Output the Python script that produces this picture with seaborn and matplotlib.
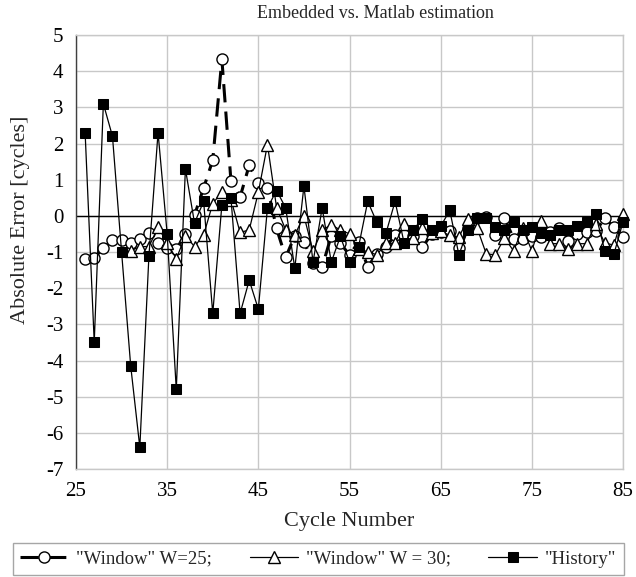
import matplotlib
matplotlib.use("Agg")
import matplotlib.pyplot as plt
import pandas as pd
import seaborn as sns

# ── DATA ─────────────────────────────────────────────────────────────────────
CYCLES = list(range(26, 86))          # W=25 and History start at cycle 26
CYCLES_W30 = list(range(31, 86))      # W=30 needs 30 cycles, starts at 31

WINDOW_25 = [-1.20, -1.17, -0.88, -0.67, -0.67, -0.74, -0.63, -0.48, -0.74, -0.88,
             -0.93, -0.50, 0.02, 0.77, 1.54, 4.33, 0.95, 0.52, 1.40, 0.92,
             0.78, -0.35, -1.15, -0.55, -0.71, -1.30, -1.42, -0.55, -0.76, -1.08,
             -0.72, -1.41, -1.05, -0.85, -0.54, -0.54, -0.55, -0.87, -0.50, -0.45,
             -0.41, -0.88, -0.35, -0.06, -0.02, -0.54, -0.06, -0.63, -0.63, -0.56,
             -0.59, -0.45, -0.34, -0.70, -0.50, -0.45, -0.43, -0.06, -0.32, -0.59]

WINDOW_30 = [-0.97, -0.85, -0.85, -0.32, -0.74, -1.19, -0.55, -0.85, -0.53, 0.34,
             0.66, 0.45, -0.46, -0.39, 0.65, 1.97, 0.23, -0.39, -0.53, 0.00,
             -0.98, -0.39, -0.25, -0.39, -0.50, -0.93, -0.99, -1.08, -0.76, -0.76,
             -0.23, -0.61, -0.34, -0.47, -0.43, -0.54, -0.59, -0.08, -0.34, -1.05,
             -1.08, -0.61, -0.97, -0.34, -0.97, -0.14, -0.77, -0.77, -0.93, -0.77,
             -0.77, -0.23, -0.75, -0.81, 0.05]

HISTORY = [2.30, -3.50, 3.10, 2.20, -1.00, -4.15, -6.40, -1.10, 2.30, -0.50,
           -4.80, 1.30, -0.20, 0.40, -2.70, 0.30, 0.48, -2.70, -1.78, -2.58,
           0.22, 0.70, 0.22, -1.45, 0.82, -1.28, 0.22, -1.28, -0.57, -1.28,
           -0.85, 0.40, -0.18, -0.48, 0.40, -0.76, -0.38, -0.08, -0.38, -0.29,
           0.15, -1.08, -0.38, -0.06, -0.05, -0.31, -0.38, -0.17, -0.38, -0.31,
           -0.47, -0.54, -0.38, -0.38, -0.29, -0.17, 0.05, -0.97, -1.06, -0.17]

LABELS = ['"Window" W=25;', '"Window" W = 30;', '"History"']
X_TICKS = [25, 35, 45, 55, 65, 75, 85]
Y_TICKS = list(range(-7, 6))

# ── STYLE ────────────────────────────────────────────────────────────────────
sns.set_theme(style="white")
plt.rcParams["font.family"] = ["Liberation Serif", "DejaVu Serif"]
plt.rcParams["axes.unicode_minus"] = False

GRID = "#c8c8c8"

fig = plt.figure(figsize=(6.36, 5.77), dpi=100)
ax = fig.add_axes([76 / 636, 1 - 469 / 577, 547 / 636, 434 / 577])

df25 = pd.DataFrame({"cycle": CYCLES, "err": WINDOW_25})
df30 = pd.DataFrame({"cycle": CYCLES_W30, "err": WINDOW_30})
dfh = pd.DataFrame({"cycle": CYCLES, "err": HISTORY})

# gridlines + zero line first so the series sit on top
ax.set_xticks(X_TICKS)
ax.set_yticks(Y_TICKS)
ax.grid(True, color=GRID, linewidth=1.0)
ax.set_axisbelow(True)
ax.axhline(0, color="black", linewidth=1.0, zorder=1.5)

sns.lineplot(data=df25, x="cycle", y="err", ax=ax, color="black",
             linewidth=2.2, linestyle=(0, (6, 3)),
             marker="o", markersize=8, markerfacecolor="white",
             markeredgecolor="black", markeredgewidth=1.0,
             label=LABELS[0], zorder=3, clip_on=False)
sns.lineplot(data=df30, x="cycle", y="err", ax=ax, color="black",
             linewidth=0.9, marker="^", markersize=8.5,
             markerfacecolor="white", markeredgecolor="black",
             markeredgewidth=1.0, label=LABELS[1], zorder=4, clip_on=False)
sns.lineplot(data=dfh, x="cycle", y="err", ax=ax, color="black",
             linewidth=0.9, marker="s", markersize=7,
             markerfacecolor="black", markeredgecolor="black",
             label=LABELS[2], zorder=5, clip_on=False)

ax.set_xlim(25, 85)
ax.set_ylim(-7, 5)
ax.tick_params(axis="both", labelsize=15, colors="black", length=0)
ax.tick_params(axis="x", pad=9)
ax.tick_params(axis="y", length=4, width=0.8, direction="out",
               color="#404040", pad=5)
ax.set_xticklabels([str(t) for t in X_TICKS])
ax.set_yticklabels([str(t) for t in Y_TICKS])

for side in ["top", "right", "bottom"]:
    ax.spines[side].set_color(GRID)
    ax.spines[side].set_linewidth(1.0)
ax.spines["left"].set_color("#404040")
ax.spines["left"].set_linewidth(1.0)

ax.set_xlabel("Cycle Number", fontsize=16, labelpad=8)
ax.set_ylabel("Absolute Error [cycles]", fontsize=16)
ax.yaxis.set_label_coords(-0.085, 0.574)

fig.text(0.59, 1 - 13 / 577, "Embedded vs. Matlab estimation",
         fontsize=13, ha="center", va="center")

handles, labels = ax.get_legend_handles_labels()
ax.get_legend().remove()
leg = fig.legend(handles, labels, loc="lower center", ncol=3,
                 bbox_to_anchor=(0.5, 0.0), frameon=True, fancybox=False,
                 edgecolor="#909090", fontsize=13.5, handlelength=2.6,
                 columnspacing=2.0, handletextpad=0.4, borderpad=0.4,
                 borderaxespad=0.1)
leg.get_frame().set_linewidth(1.0)

fig.savefig("out.png", dpi=100)
